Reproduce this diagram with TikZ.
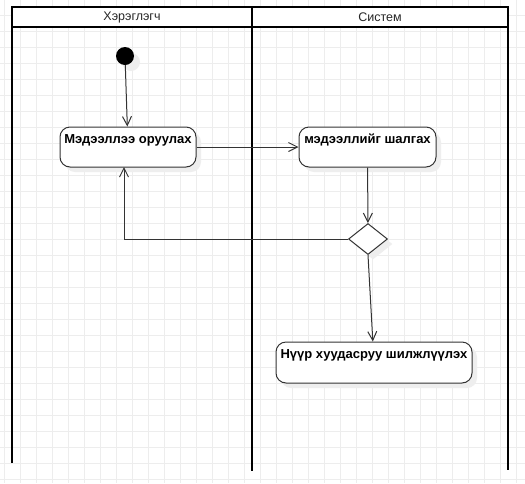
\documentclass[tikz,border=0pt]{standalone}
\usepackage{fontspec}
\setmainfont{Liberation Sans}
\usetikzlibrary{arrows.meta,shadows,shapes.geometric}
\definecolor{gridc}{HTML}{EDEDED}
\definecolor{linec}{HTML}{333333}
\definecolor{shadc}{HTML}{EEEEEE}
\begin{document}
\begin{tikzpicture}[x=1pt,y=-1pt,
  gridline/.style={gridc,line width=0.8pt},
  lane/.style={black,line width=2pt},
  headtext/.style={font=\fontsize{12.5}{14}\selectfont,text=black!85},
  actbox/.style={draw=linec,line width=1pt,rounded corners=10pt,fill=white,inner sep=0pt,
    drop shadow={shadow xshift=5pt,shadow yshift=-5pt,fill=shadc,opacity=1}},
  boxtext/.style={font=\bfseries\fontsize{13}{15}\selectfont,inner sep=0pt},
  startdot/.style={circle,fill=black,minimum size=18pt,inner sep=0pt,
    drop shadow={shadow xshift=6pt,shadow yshift=-6pt,fill=shadc,opacity=1}},
  decision/.style={diamond,draw=linec,line width=1pt,fill=white,inner sep=0pt,
    minimum width=39pt,minimum height=31pt,aspect=1.26,
    drop shadow={shadow xshift=5pt,shadow yshift=-5pt,fill=shadc,opacity=1}},
  flow/.style={linec,line width=1pt,-{Straight Barb[length=9pt,width=9pt]}}
]
\useasboundingbox (0,0) rectangle (525,483);
\fill[white] (0,0) rectangle (525,483);
\foreach \x in {4,20,...,525} \draw[gridline] (\x,0) -- (\x,483);
\foreach \y in {15,31,...,483} \draw[gridline] (0,\y) -- (525,\y);
% swimlanes
\fill[white] (12,7) rectangle (508,27);
\draw[lane] (12,463) -- (12,7) -- (508,7) -- (508,470);
\draw[lane] (12,27) -- (508,27);
\draw[lane] (252,7) -- (252,471);
\node[headtext] (h1) at (132,17) {Хэрэглэгч};
\node[headtext] (h2) at (380,17) {Систем};
% nodes
\node[startdot] (s) at (125,56) {};
\node[actbox,minimum width=136pt,minimum height=40pt] (b1) at (128,147) {};
\node[boxtext] (t1) at (128,140) {Мэдээллээ оруулах};
\node[actbox,minimum width=137pt,minimum height=40pt] (b2) at (367.5,147) {};
\node[boxtext] (t2) at (367.5,140) {мэдээллийг шалгах};
\node[decision] (d) at (368,239) {};
\node[actbox,minimum width=196pt,minimum height=41pt] (b3) at (374,362.5) {};
\node[boxtext] (t3) at (374,355) {Нүүр хуудасруу шилжлүүлэх};
\coordinate (b1in) at (124,167);
% connectors
\draw[flow] (s) -- (b1);
\draw[flow] (b1) -- (b2);
\draw[flow] (b2) -- (d);
\draw[flow] (d.west) -| (b1in);
\draw[flow] (d.south) -- (b3);
\end{tikzpicture}
\end{document}
